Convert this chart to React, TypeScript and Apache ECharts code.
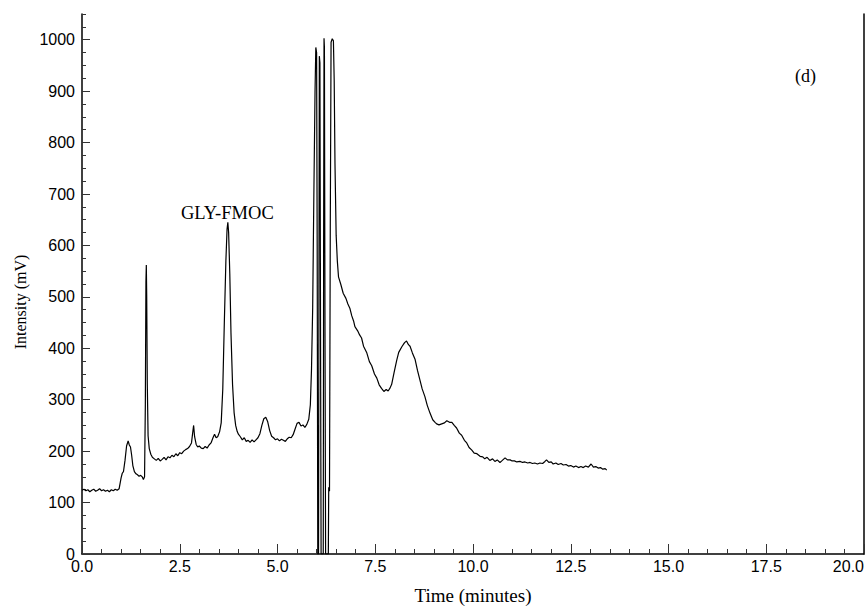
import React, { useEffect, useRef } from "react";
import * as echarts from "echarts";

// Chromatogram trace (time in minutes, intensity in mV)
const baselineSegment: [number, number][] = [
  [0, 124], [0.05, 126], [0.1, 123], [0.15, 125], [0.2, 121], [0.25, 124], [0.3, 126], [0.35, 122],
  [0.4, 124], [0.45, 127], [0.5, 123], [0.55, 125], [0.6, 122], [0.65, 124], [0.7, 121], [0.75, 125],
  [0.8, 123], [0.85, 126], [0.9, 124], [0.95, 127],
];

const earlySegment: [number, number][] = [
  [1.0, 148], [1.03, 157], [1.06, 160], [1.1, 182], [1.14, 210], [1.18, 220], [1.21, 212], [1.24, 208],
  [1.27, 192], [1.3, 172], [1.34, 160], [1.38, 156], [1.42, 154], [1.46, 151], [1.5, 153], [1.54, 150],
  [1.57, 145], [1.6, 150], [1.62, 290], [1.635, 530], [1.645, 562], [1.655, 500], [1.67, 330], [1.69, 230],
  [1.72, 205], [1.76, 194],
];

const glyRegionSegment: [number, number][] = [
  [1.8, 188], [1.85, 185], [1.9, 182], [1.95, 186], [2.0, 181], [2.05, 184], [2.1, 188], [2.15, 183],
  [2.2, 189], [2.25, 187], [2.3, 192], [2.35, 189], [2.4, 195], [2.45, 191], [2.5, 197], [2.55, 195],
  [2.6, 200], [2.65, 203], [2.7, 205], [2.75, 209], [2.8, 216], [2.83, 235], [2.855, 250], [2.88, 228],
  [2.92, 213], [2.96, 208], [3.0, 210], [3.05, 206], [3.1, 205], [3.15, 209], [3.2, 206], [3.25, 212],
  [3.3, 216], [3.35, 226], [3.39, 233], [3.43, 226], [3.47, 228], [3.52, 238], [3.56, 255], [3.6, 320],
  [3.64, 450], [3.68, 570], [3.71, 632], [3.73, 645], [3.75, 625], [3.78, 545], [3.81, 430], [3.85, 330],
  [3.89, 275], [3.93, 250], [3.97, 238], [4.0, 233], [4.05, 228], [4.1, 222], [4.15, 226], [4.2, 219],
  [4.25, 221], [4.3, 217], [4.35, 222], [4.4, 218], [4.45, 222], [4.5, 226], [4.55, 234], [4.6, 250],
  [4.65, 263], [4.7, 266], [4.75, 257], [4.8, 240], [4.85, 229], [4.9, 226], [4.95, 222], [5.0, 224],
  [5.05, 220], [5.1, 223], [5.15, 221], [5.2, 219], [5.25, 224], [5.3, 227], [5.35, 226], [5.4, 232],
  [5.45, 243], [5.5, 254], [5.55, 256], [5.6, 249], [5.65, 251], [5.7, 246], [5.75, 252], [5.8, 262],
  [5.84, 290],
];

const spikeSegment: [number, number][] = [
  [5.87, 360], [5.9, 480], [5.93, 700], [5.96, 900], [5.98, 985], [6.0, 975], [6.015, 600], [6.03, 0],
  [6.05, 0], [6.06, 520], [6.07, 968], [6.085, 955], [6.1, 450], [6.115, 0], [6.17, 0], [6.18, 620],
  [6.19, 1003], [6.2, 985], [6.215, 420], [6.23, 0], [6.3, 0], [6.31, 130], [6.33, 122], [6.35, 640],
  [6.37, 995], [6.4, 1002], [6.43, 998], [6.45, 920], [6.47, 760], [6.5, 620], [6.53, 570],
];

const lateSegment: [number, number][] = [
  [6.56, 539], [6.62, 524], [6.68, 507], [6.75, 497], [6.8, 486], [6.85, 478], [6.9, 463], [6.95, 452],
  [6.98, 442], [7.05, 434], [7.1, 426], [7.15, 420], [7.2, 404], [7.28, 392], [7.35, 374], [7.41, 366],
  [7.48, 350], [7.54, 342], [7.6, 329], [7.66, 322], [7.72, 316], [7.78, 320], [7.83, 317], [7.88, 323],
  [7.92, 330], [7.98, 352], [8.05, 377], [8.1, 392], [8.18, 403], [8.25, 411], [8.3, 414], [8.35, 407],
  [8.39, 404], [8.45, 391], [8.52, 378], [8.58, 357], [8.64, 339], [8.7, 321], [8.77, 306], [8.83, 289],
  [8.9, 274], [8.97, 261], [9.03, 256], [9.07, 253], [9.13, 251], [9.2, 253], [9.27, 255], [9.33, 259],
  [9.4, 256], [9.46, 256], [9.52, 250], [9.58, 245], [9.65, 235], [9.71, 231], [9.78, 221], [9.84, 216],
  [9.9, 207], [9.97, 202], [10.03, 196], [10.1, 195], [10.18, 190], [10.25, 189], [10.3, 185], [10.36, 188],
  [10.43, 182], [10.5, 185], [10.56, 180], [10.62, 183], [10.69, 178], [10.75, 182], [10.82, 187], [10.88, 183],
  [10.95, 183], [11.0, 181], [11.06, 181], [11.12, 179], [11.2, 180], [11.27, 178], [11.33, 179], [11.4, 177],
  [11.46, 178], [11.52, 176], [11.58, 177], [11.65, 175], [11.71, 177], [11.78, 176], [11.84, 180], [11.88, 183],
  [11.94, 178], [12.0, 179], [12.05, 175], [12.12, 177], [12.18, 174], [12.25, 176], [12.31, 173], [12.38, 174],
  [12.44, 171], [12.5, 172], [12.57, 169], [12.63, 171], [12.7, 168], [12.76, 170], [12.82, 168], [12.88, 171],
  [12.95, 169], [13.02, 175], [13.08, 169], [13.14, 170], [13.2, 167], [13.26, 168], [13.32, 165], [13.38, 166],
  [13.42, 163],
];

const yMajorTicks = [0, 100, 200, 300, 400, 500, 600, 700, 800, 900, 1000];
const xTitle = "Time (minutes)";
const yTitle = "Intensity (mV)";
const peakLabel = "GLY-FMOC";
const panelLabel = "(d)";

export default function App() {
  const ref = useRef<HTMLDivElement>(null);
  useEffect(() => {
    if (!ref.current) return;
    const chart = echarts.init(ref.current, undefined, { renderer: "svg" });
    const trace = [
      ...baselineSegment,
      ...earlySegment,
      ...glyRegionSegment,
      ...spikeSegment,
      ...lateSegment,
    ];
    const sans = "Liberation Sans";
    const serif = "Liberation Serif";
    const gridBox = { left: 82, right: 2, top: 14, bottom: 56 };
    chart.setOption({
      animation: false,
      backgroundColor: "#ffffff",
      grid: [{ ...gridBox }, { ...gridBox }],
      xAxis: [
        {
          gridIndex: 0,
          type: "value",
          min: 0,
          max: 20,
          interval: 2.5,
          name: xTitle,
          nameLocation: "middle",
          nameGap: 32,
          nameTextStyle: { fontFamily: serif, fontSize: 19, color: "#000" },
          axisLine: { show: true, onZero: false, lineStyle: { color: "#000", width: 1.5 } },
          axisTick: { show: true, inside: true, length: 10, lineStyle: { color: "#333", width: 1 } },
          minorTick: { show: true, splitNumber: 5, length: 5, lineStyle: { color: "#333", width: 1 } },
          axisLabel: {
            fontFamily: sans,
            fontSize: 16,
            color: "#000",
            margin: 4,
            alignMaxLabel: "right",
            formatter: (v: number) => v.toFixed(1),
          },
          splitLine: { show: false },
        },
        { gridIndex: 1, type: "value", min: 0, max: 20, show: false },
      ],
      yAxis: [
        {
          gridIndex: 0,
          type: "value",
          min: 0,
          max: 1050,
          interval: 100,
          position: "left",
          axisLine: { show: true, onZero: false, lineStyle: { color: "#000", width: 1.5 } },
          axisTick: {
            show: true,
            inside: true,
            length: 8,
            customValues: yMajorTicks,
            lineStyle: { color: "#333", width: 1 },
          },
          axisLabel: {
            fontFamily: sans,
            fontSize: 16,
            color: "#000",
            margin: 7,
            customValues: yMajorTicks,
            formatter: (v: number) => String(v),
          },
          splitLine: { show: false },
        },
        {
          gridIndex: 0,
          type: "value",
          min: 0,
          max: 1050,
          position: "right",
          axisLine: { show: true, onZero: false, lineStyle: { color: "#000", width: 1.5 } },
          axisTick: { show: false },
          axisLabel: { show: false },
          splitLine: { show: false },
        },
        {
          gridIndex: 1,
          type: "value",
          min: 0,
          max: 1050,
          interval: 25,
          position: "left",
          axisLine: { show: false },
          axisTick: { show: true, inside: true, length: 4, lineStyle: { color: "#333", width: 1 } },
          axisLabel: { show: false },
          splitLine: { show: false },
        },
      ],
      graphic: [
        {
          type: "text",
          x: 20,
          y: 302,
          rotation: Math.PI / 2,
          style: {
            text: yTitle,
            font: `16px ${serif}`,
            fill: "#000",
            align: "center",
            verticalAlign: "middle",
          },
        },
        {
          type: "text",
          left: 181,
          top: 203,
          style: { text: peakLabel, font: `18.5px ${serif}`, fill: "#000" },
        },
        {
          type: "text",
          left: 795,
          top: 67,
          style: { text: panelLabel, font: `18px ${serif}`, fill: "#000" },
        },
      ],
      series: [
        {
          type: "line",
          xAxisIndex: 0,
          yAxisIndex: 0,
          data: trace,
          symbol: "none",
          showSymbol: false,
          lineStyle: { color: "#000", width: 1.2 },
        },
      ],
    });
    return () => chart.dispose();
  }, []);
  return (
    <div
      ref={ref}
      style={{ position: "fixed", left: 0, top: 0, width: 867, height: 610, background: "#fff" }}
    />
  );
}
